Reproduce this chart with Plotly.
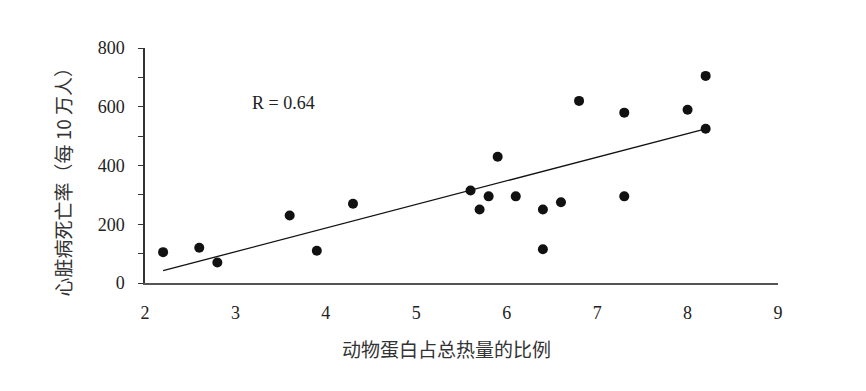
import plotly.graph_objects as go

# Data
protein_share = [2.2, 2.6, 2.8, 3.6, 3.9, 4.3, 5.6, 5.7, 5.8, 5.9, 6.1, 6.4, 6.4, 6.6, 6.8, 7.3, 7.3, 8.0, 8.2, 8.2]
death_rate = [105, 120, 70, 230, 110, 270, 315, 250, 295, 430, 295, 250, 115, 275, 620, 580, 295, 590, 705, 525]

trend_x = [2.2, 8.2]
trend_y = [42, 525]

x_ticks = [2, 3, 4, 5, 6, 7, 8, 9]
y_ticks = [0, 200, 400, 600, 800]

x_title = "动物蛋白占总热量的比例"
y_title = "心脏病死亡率（每 10 万人）"
r_label = "R = 0.64"

serif = "Liberation Serif, Times New Roman, serif"
cjk = "Noto Sans CJK SC, sans-serif"

fig = go.Figure()
fig.add_trace(go.Scatter(x=trend_x, y=trend_y, mode="lines",
                         line=dict(color="#111", width=1.3), showlegend=False,
                         hoverinfo="skip"))
fig.add_trace(go.Scatter(x=protein_share, y=death_rate, mode="markers",
                         marker=dict(color="#111", size=10), showlegend=False))

fig.update_layout(
    width=866, height=391,
    margin=dict(l=145, r=88, t=48, b=108),
    paper_bgcolor="white", plot_bgcolor="white",
    xaxis=dict(range=[2, 9], tickvals=x_ticks, ticks="", showgrid=False, zeroline=False,
               showline=True, linecolor="#555", linewidth=2, automargin=False,
               tickfont=dict(family=serif, size=18, color="#222"),
               ticklabelstandoff=12),
    yaxis=dict(range=[0, 800], tickvals=y_ticks, ticks="outside", ticklen=5, tickcolor="#333",
               tickwidth=1.3, automargin=False,
               minor=dict(dtick=100, ticks="outside", ticklen=5, tickcolor="#333", tickwidth=1.3),
               showgrid=False, zeroline=False,
               showline=True, linecolor="#333", linewidth=1.5,
               tickfont=dict(family=serif, size=18, color="#222"),
               ticklabelstandoff=10),
    annotations=[
        dict(x=3.53, y=613, xref="x", yref="y", text=r_label, showarrow=False,
             font=dict(family=serif, size=18, color="#222")),
        dict(x=446, y=391 - 348, xref="paper", yref="paper", text=x_title, showarrow=False,
             xanchor="center", yanchor="middle", font=dict(family=cjk, size=19, color="#333")),
        dict(x=62, y=391 - 176.5, xref="paper", yref="paper", text=y_title, showarrow=False,
             textangle=-90, xanchor="center", yanchor="middle",
             font=dict(family=cjk, size=19, color="#333")),
    ],
)

# convert pixel positions of the two title annotations to paper fractions
pw, ph = 866 - 145 - 88, 391 - 48 - 108
for ann in fig.layout.annotations[1:]:
    ann.x = (ann.x - 145) / pw
    ann.y = (ann.y - 108) / ph

fig.write_html("out.html",
               config={"displayModeBar": False},
               post_script="document.body.style.margin='0';document.body.style.overflow='hidden';")
